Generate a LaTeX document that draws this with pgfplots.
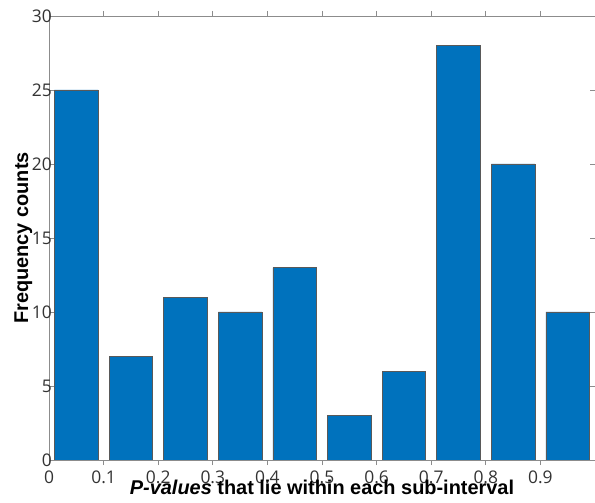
\documentclass[border=0pt]{standalone}
\usepackage{fontspec}
\setmainfont{Liberation Sans}
\newfontfamily\tickfont{Open Sans}
\usepackage{pgfplots}
\pgfplotsset{compat=1.18}
\definecolor{barblue}{HTML}{0072BD}
\definecolor{axgray}{HTML}{8C8C8C}
\definecolor{ticktext}{HTML}{333333}
\begin{document}
\begin{tikzpicture}
\begin{axis}[
  scale only axis,
  width=546bp, height=444bp,
  xmin=0, xmax=1, ymin=0, ymax=30,
  xtick={0,0.1,0.2,0.3,0.4,0.5,0.6,0.7,0.8,0.9},
  xticklabels={0,0.1,0.2,0.3,0.4,0.5,0.6,0.7,0.8,0.9},
  ytick={0,5,10,15,20,25,30},
  tick align=inside,
  major tick length=5bp,
  axis line style={draw=axgray, line width=0.8bp},
  tick style={draw=axgray, line width=0.8bp},
  /pgf/number format/assume math mode=true,
  tick label style={font=\tickfont\fontsize{17.5}{19}\selectfont, text=ticktext, inner sep=1bp},
  xticklabel style={yshift=-4.5bp, text depth=0pt},
  yticklabel style={xshift=4bp},
  xlabel={\textbf{\textit{P-values}} \textbf{that lie within each sub-interval}},
  ylabel={\textbf{Frequency counts}},
  label style={font=\fontsize{20}{22}\selectfont, inner sep=1bp},
  xlabel style={yshift=5.5bp},
  ylabel style={yshift=-2.5bp},
  ybar, bar width=0.08, bar shift=0pt,
]
\addplot[fill=barblue, draw=black!65, line width=0.6bp] coordinates {
  (0.05,25) (0.15,7) (0.25,11) (0.35,10) (0.45,13)
  (0.55,3) (0.65,6) (0.75,28) (0.85,20) (0.95,10)
};
\end{axis}
\pgfresetboundingbox
\path[use as bounding box] (-49bp,-43bp) rectangle (546bp,460bp);
\end{tikzpicture}
\end{document}
